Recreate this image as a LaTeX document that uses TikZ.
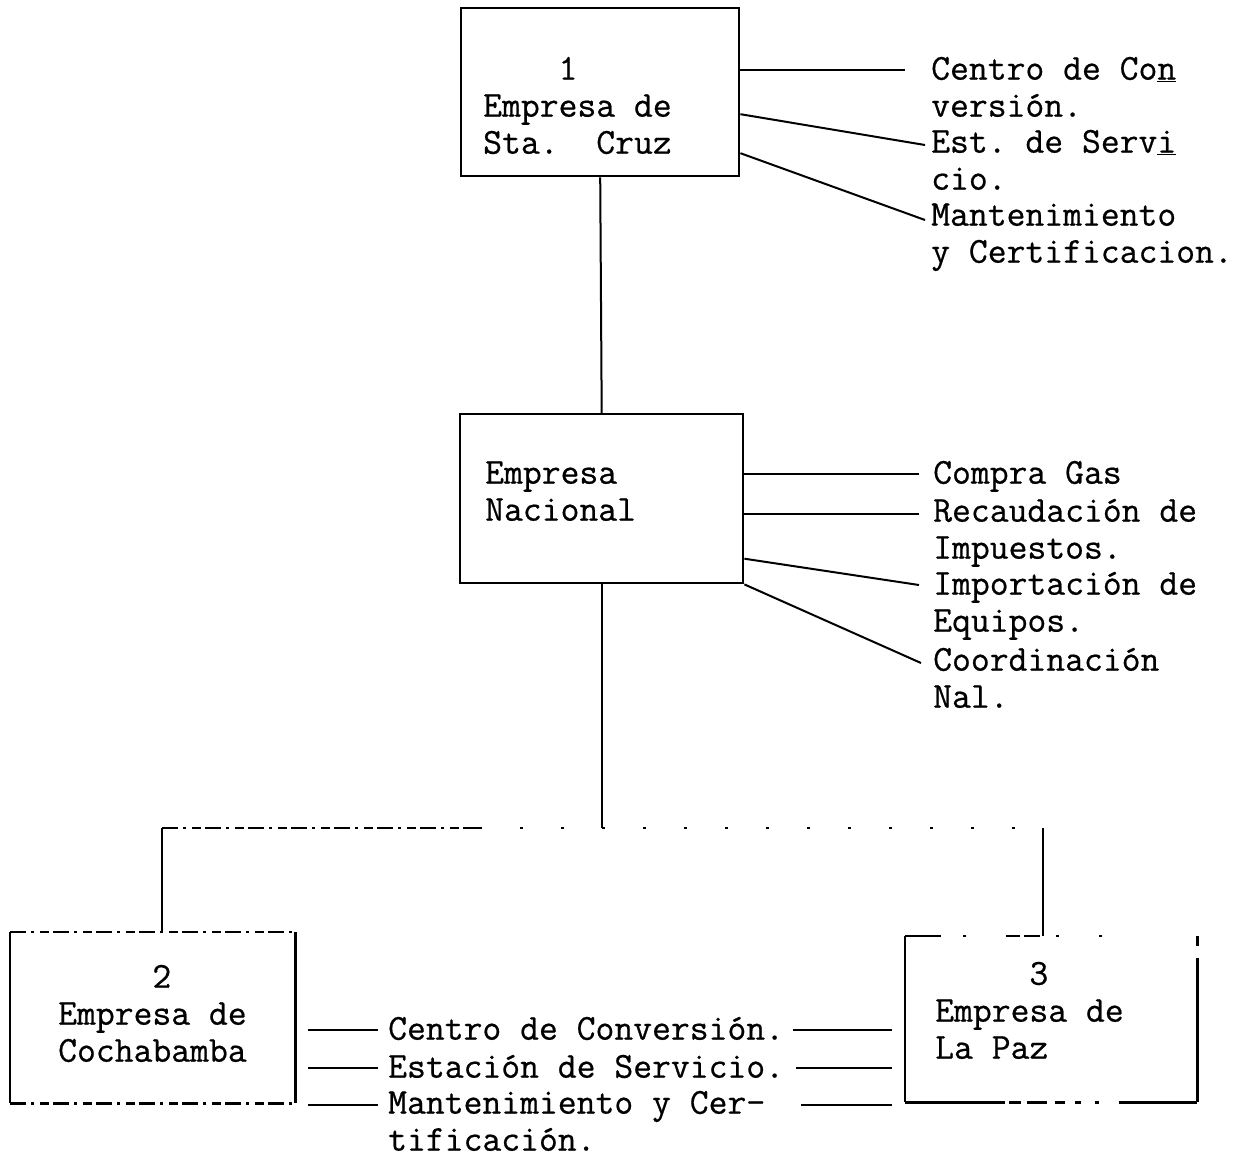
\documentclass[tikz,border=0pt]{standalone}
\usepackage{fontspec}
\newfontfamily\tw[FakeBold=0.6]{Latin Modern Mono}
\usetikzlibrary{calc}
\begin{document}
\begin{tikzpicture}[x=1pt,y=-1pt,
  ln/.style={line width=2pt},
  bx/.style={draw, line width=2.4pt, inner sep=0pt, anchor=north west},
  frame/.style={inner sep=0pt, anchor=north west},
  edge/.style={line width=2.4pt},
  txt/.style={font=\tw\fontsize{36.6}{37}\selectfont\frenchspacing, anchor=north west, inner sep=0pt, align=left, yshift=16.4pt},
  worn/.style={line width=2.2pt, dash pattern=on 16pt off 5pt on 3pt off 6pt on 9pt off 4pt},
  faint/.style={line width=1.6pt, dash pattern=on 3pt off 38pt},
]
\useasboundingbox (0,0) rectangle (1257,1158);

% boxes
\node[bx, minimum width=278pt, minimum height=168pt] (b1) at (460,7) {};
\node[bx, minimum width=283pt, minimum height=169pt] (bn) at (459,413) {};
\node[frame, minimum width=285pt, minimum height=171pt] (b2) at (10,932) {};
\node[frame, minimum width=292pt, minimum height=166pt] (b3) at (905,936) {};

% box 2 edges
\draw[edge] (b2.north west) -- (b2.south west);
\draw[edge] (b2.north east) -- (b2.south east);
\draw[worn] (b2.north west) -- (b2.north east);
\draw[worn] (b2.south west) -- (b2.south east);
% box 3 edges
\draw[edge] (b3.north west) -- (b3.south west);
\draw[edge, dash pattern=on 10pt off 12pt on 300pt] (b3.north east) -- (b3.south east);
\draw[edge, dash pattern=on 36pt off 22pt on 3pt off 40pt on 14pt off 4pt on 16pt off 16pt on 3pt off 40pt on 3pt off 200pt] (b3.north west) -- (b3.north east);
\draw[edge, dash pattern=on 100pt off 4pt on 12pt off 6pt on 20pt off 8pt on 10pt off 10pt on 6pt off 14pt on 4pt off 20pt] (b3.south west) -- (b3.south east);

% box texts
\node[txt] (t1) at (483,70) {\strut\hphantom{0000}1\\Empresa de\\Sta.~~Cruz};
\node[txt] (tn) at (485,474) {\strut Empresa\\Nacional};
\node[txt] (t2) at (58,978) {\strut\hphantom{00000}2\\Empresa de\\Cochabamba};
\node[txt] (t3) at (935,975) {\strut\hphantom{00000}3\\Empresa de\\La Paz};

% box 1 labels
\node[txt] (tA) at (931,70) {\strut Centro de Co\underline{n}\\versión.};
\node[txt] (tB) at (931,143) {\strut Est. de Serv\underline{i}\\cio.};
\node[txt] (tC) at (931,216) {\strut Mantenimiento\\y Certificacion.};
\coordinate (rA) at ([yshift=-16.4pt]tA.north west);
\coordinate (rB) at ([yshift=-16.4pt]tB.north west);
\coordinate (rC) at ([yshift=-16.4pt]tC.north west);

% national labels
\node[txt] (tD) at (933,474) {\strut Compra Gas};
\node[txt] (tE) at (933,512) {\strut Recaudación de\\Impuestos.};
\node[txt] (tF) at (933,585) {\strut Importación de\\Equipos.};
\node[txt] (tG) at (933,661) {\strut Coordinación\\Nal.};
\coordinate (rD) at ([yshift=-16.4pt]tD.north west);
\coordinate (rE) at ([yshift=-16.4pt]tE.north west);
\coordinate (rF) at ([yshift=-16.4pt]tF.north west);
\coordinate (rG) at ([yshift=-16.4pt]tG.north west);

% bottom labels
\node[txt] (m1) at (388,1030) {\strut Centro de Conversión.};
\node[txt] (m2) at (388,1068) {\strut Estación de Servicio.};
\node[txt] (m3) at (388,1104) {\strut Mantenimiento y Cer-\\tificación.};
\coordinate (rM1) at ([yshift=-16.4pt]m1.north west);
\coordinate (rM2) at ([yshift=-16.4pt]m2.north west);
\coordinate (rM3) at ([yshift=-16.4pt]m3.north west);

% vertical trunk
\draw[ln] (b1.south) -- (bn.north);
\coordinate (jL) at (162,828);
\coordinate (jR) at (1043,828);
\draw[ln] (bn.south) -- (bn.south |- jL);
\draw[worn] (jL) -- ($(jL)!0.36!(jR)$);
\draw[faint] ($(jL)!0.36!(jR)$) -- (jR);
\draw[ln] (jL) -- (jL |- b2.north);
\draw[ln] (jR) -- (jR |- b3.north);

% box 1 connectors
\draw[ln] (rA -| b1.east) -- ([xshift=-26pt]rA);
\draw[ln] ([yshift=-22pt]b1.east) -- ([xshift=-6pt,yshift=-2pt]rB);
\draw[ln] ([yshift=-61pt]b1.east) -- ([xshift=-6pt,yshift=-4pt]rC);

% national connectors
\draw[ln] (rD -| bn.east) -- ([xshift=-14pt]rD);
\draw[ln] ([yshift=-2pt]rE -| bn.east) -- ([xshift=-14pt,yshift=-2pt]rE);
\draw[ln] ([yshift=-60pt]bn.east) -- ([xshift=-14pt]rF);
\draw[ln] (bn.south east) -- ([xshift=-12pt,yshift=-2pt]rG);

% bottom connectors
\coordinate (gL) at ($(b2.east)+(13,0)$);
\coordinate (gR) at ($(b3.west)+(-13,0)$);
\draw[ln] (rM1 -| gL) -- ([xshift=-10pt]rM1);
\draw[ln] (rM2 -| gL) -- ([xshift=-10pt]rM2);
\draw[ln] ([yshift=-1pt]rM3 -| gL) -- ([xshift=-10pt,yshift=-1pt]rM3);
\coordinate (s1) at ($(rM1 -| m1.east)+(9,0)$);
\coordinate (s2) at ($(rM2 -| m2.east)+(12,0)$);
\coordinate (s3) at ($(rM3 -| m3.east)+(36,1)$);
\draw[ln] (s1) -- (s1 -| gR);
\draw[ln] (s2) -- (s2 -| gR);
\draw[ln] (s3) -- (s3 -| gR);
\end{tikzpicture}
\end{document}
